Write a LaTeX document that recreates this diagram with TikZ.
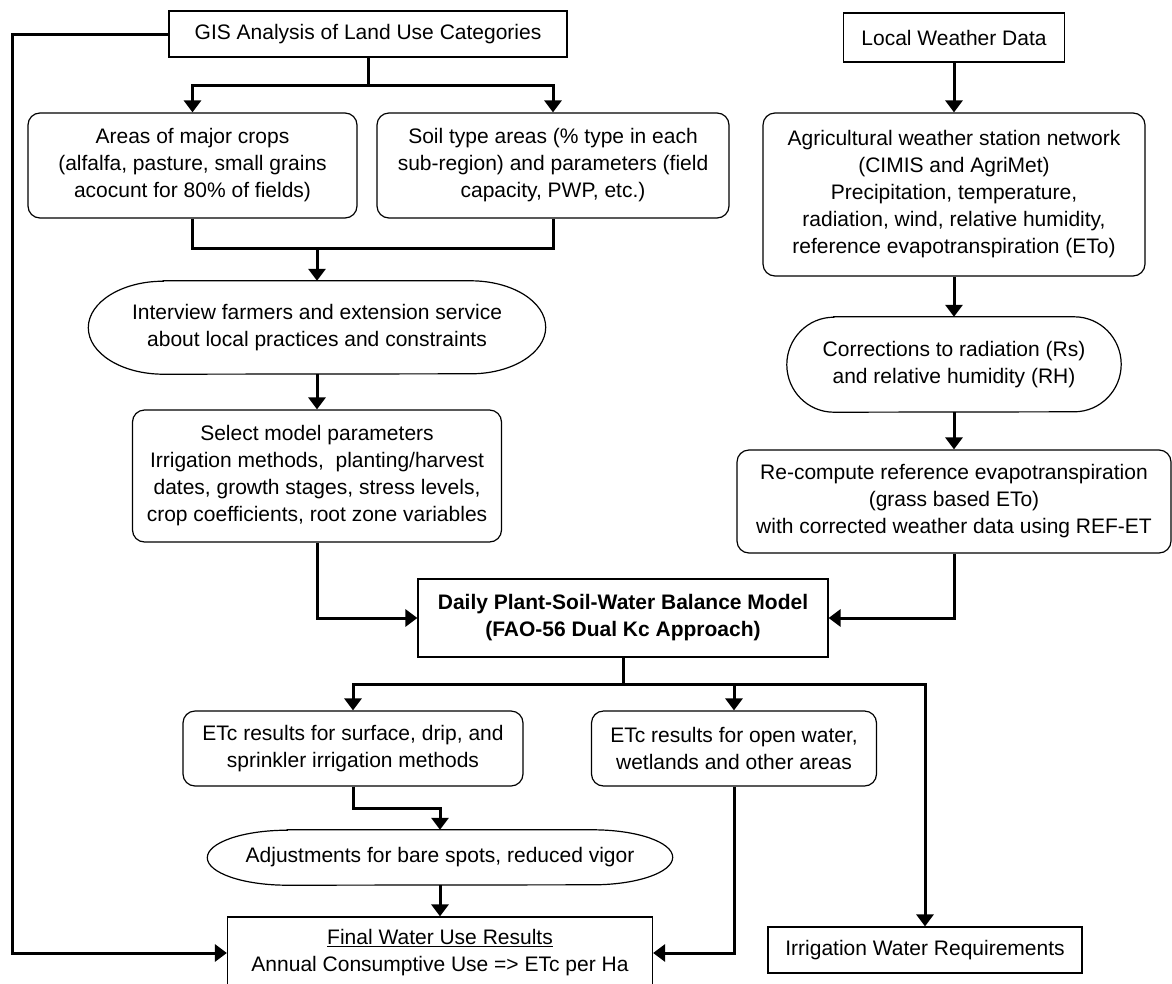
\documentclass[tikz,border=0pt]{standalone}
\usepackage{fontspec}
\setmainfont{Liberation Sans}
\usetikzlibrary{arrows.meta,calc}

% outline with half-elliptical ends around a named node: name, x radius, y radius (pt)
\newcommand\capsule[3]{%
  \draw[line width=1.2pt]
    ($(#1.north west)+(#2,0)$) -- ($(#1.north east)+(-#2,0)$)
    arc[start angle=90,end angle=-90,x radius=#2pt,y radius=#3pt]
    -- ($(#1.south west)+(#2,0)$)
    arc[start angle=270,end angle=90,x radius=#2pt,y radius=#3pt] -- cycle;}

\begin{document}
\begin{tikzpicture}[x=1pt,y=-1pt,
  every node/.style={font=\fontsize{21pt}{27pt}\selectfont, align=center, inner sep=0pt},
  sqbox/.style={draw, line width=1.2pt},
  rbox/.style={sqbox, rounded corners=12pt},
  conn/.style={line width=3pt},
  arr/.style={conn, -{Triangle[length=12pt,width=17pt]}}]

\useasboundingbox (0,0) rectangle (1172,983);
\fill[white] (0,0) rectangle (1172,983);
\clip (0,0) rectangle (1172,983);

% left column
\node[sqbox, minimum width=398pt, minimum height=46pt] (gis) at (368,34)
  {GIS Analysis of Land Use Categories};
\node[rbox, minimum width=329pt, minimum height=105pt] (areas) at (192.5,165.5)
  {Areas of major crops\\(alfalfa, pasture, small grains\\acocunt for 80\% of fields)};
\node[rbox, minimum width=352pt, minimum height=105pt] (soil) at (553,165.5)
  {Soil type areas (\% type in each\\sub-region) and parameters (field\\capacity, PWP, etc.)};
\node[minimum width=457pt, minimum height=93pt] (interview) at (317,327.5)
  {Interview farmers and extension service\\about local practices and constraints};
\node[rbox, minimum width=369pt, minimum height=132pt] (select) at (317,476)
  {Select model parameters\\Irrigation methods,\ \ planting/harvest\\dates, growth stages, stress levels,\\crop coefficients, root zone variables};

% right column
\node[sqbox, minimum width=221pt, minimum height=49pt] (weather) at (954,37.5)
  {Local Weather Data};
\node[rbox, minimum width=382pt, minimum height=163pt] (agri) at (954,194.5)
  {Agricultural weather station network\\(CIMIS and AgriMet)\\Precipitation, temperature,\\radiation, wind, relative humidity,\\reference evapotranspiration (ETo)};
\node[minimum width=334pt, minimum height=95pt] (corr) at (954,364.5)
  {Corrections to radiation (Rs)\\and relative humidity (RH)};
\node[rbox, minimum width=434pt, minimum height=103pt] (recomp) at (954,501.5)
  {Re-compute reference evapotranspiration\\(grass based ETo)\\with corrected weather data using REF-ET};

% model and results
\node[sqbox, minimum width=410pt, minimum height=78pt,
      font=\fontsize{21pt}{27pt}\selectfont\bfseries] (daily) at (623,618)
  {Daily Plant-Soil-Water Balance Model\\(FAO-56 Dual Kc Approach)};
\node[rbox, minimum width=340pt, minimum height=75pt] (etcs) at (353,748.5)
  {ETc results for surface, drip, and\\sprinkler irrigation methods};
\node[rbox, minimum width=285pt, minimum height=75pt] (etco) at (734,748.5)
  {ETc results for open water,\\wetlands and other areas};
\node[minimum width=465pt, minimum height=55pt] (adj) at (440,857.5)
  {Adjustments for bare spots, reduced vigor};
\node[sqbox, minimum width=425pt, minimum height=72pt] (final) at (440,953)
  {\underline{Final Water Use Results}\\Annual Consumptive Use => ETc per Ha};
\node[sqbox, minimum width=314pt, minimum height=46pt] (irr) at (925,950)
  {Irrigation Water Requirements};

\capsule{interview}{75}{46.5}
\capsule{corr}{47}{47.5}
\capsule{adj}{80}{27.5}

% branch and merge points
\coordinate (b1) at (368,85);
\coordinate (m1) at (317,248);
\coordinate (b2) at (623,684);
\coordinate (fb) at (12,34);

% connectors
\draw[conn] (gis.south) -- (b1);
\draw[arr] (b1) -| (areas.north);
\draw[arr] (b1) -| (soil.north);
\draw[conn] (areas.south) |- (m1);
\draw[conn] (soil.south) |- (m1);
\draw[arr] (m1) -- (interview.north);
\draw[arr] (interview.south) -- (select.north);
\draw[arr] (select.south) |- (daily.west);

\draw[arr] (weather.south) -- (agri.north);
\draw[arr] (agri.south) -- (corr.north);
\draw[arr] (corr.south) -- (recomp.north);
\draw[arr] (recomp.south) |- (daily.east);

\draw[conn] (daily.south) -- (b2);
\draw[arr] (b2) -| (etcs.north);
\draw[arr] (b2) -| (etco.north);
\draw[arr] (b2) -| (irr.north);
\draw[arr] (etcs.south) -- ++(0,22) -| (adj.north);
\draw[arr] (adj.south) -- (final.north);
\draw[arr] (etco.south) |- (final.east);
\draw[arr] (gis.west) -- (fb) |- (final.west);
\end{tikzpicture}
\end{document}
